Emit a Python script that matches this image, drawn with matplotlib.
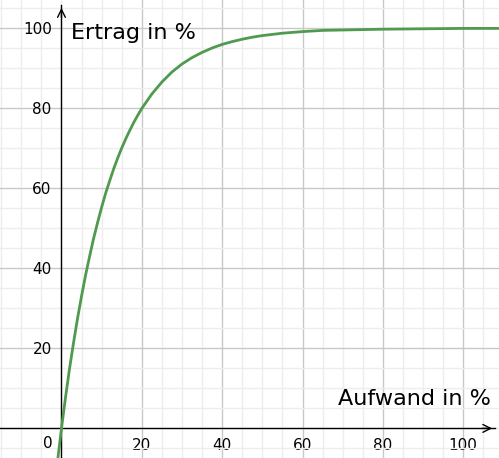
import matplotlib.pyplot as plt
from matplotlib.ticker import MultipleLocator

# Points (Aufwand -> Ertrag, both in %)
aufwand = [-2, -1, 0, 1, 2, 3, 4, 5, 6, 7, 8, 9, 10, 11, 12, 13, 14, 15, 16, 17,
           18, 19, 20, 22.5, 25, 27.5, 30, 32.5, 35, 37.5, 40, 42.5, 45, 47.5, 50,
           55, 60, 65, 70, 80, 90, 100, 110]
ertrag = [-17.5, -8.4, 0, 7.7, 14.9, 21.4, 27.5, 33.1, 38.3, 43.0, 47.5, 51.5, 55.3,
          58.8, 61.9, 64.9, 67.6, 70.1, 72.4, 74.5, 76.5, 78.3, 80.0, 83.6, 86.6,
          89.1, 91.1, 92.7, 94.0, 95.1, 96.0, 96.7, 97.3, 97.8, 98.2, 98.8, 99.2,
          99.5, 99.6, 99.8, 99.9, 100.0, 100.0]

x_ticks = [20, 40, 60, 80, 100]
y_ticks = [20, 40, 60, 80, 100]

fig = plt.figure(figsize=(4.99, 4.58), dpi=100)
ax = fig.add_axes([0, 0, 1, 1])

x_min, x_max = -15.3, 108.9
y_min, y_max = -7.4, 107.1
ax.set_xlim(x_min, x_max)
ax.set_ylim(y_min, y_max)

# grid
ax.xaxis.set_major_locator(MultipleLocator(20))
ax.yaxis.set_major_locator(MultipleLocator(20))
ax.xaxis.set_minor_locator(MultipleLocator(5))
ax.yaxis.set_minor_locator(MultipleLocator(5))
ax.grid(which='major', color='#c8c8c8', lw=1)
ax.grid(which='minor', color='#ededed', lw=1)
ax.set_axisbelow(True)

ax.set_xticks(x_ticks)
ax.set_yticks(y_ticks)
ax.set_xticklabels([str(t) for t in x_ticks])
ax.set_yticklabels([str(t) for t in y_ticks])
ax.tick_params(which='both', length=0)
ax.tick_params(axis='x', pad=7, labelsize=11)
ax.tick_params(axis='y', pad=7, labelsize=11)

for s in ['top', 'right']:
    ax.spines[s].set_visible(False)
ax.spines['left'].set_position(('data', 0))
ax.spines['bottom'].set_position(('data', 0))
ax.spines['left'].set_bounds(y_min, 105.8)
ax.spines['bottom'].set_bounds(x_min, 107.9)
ax.spines['left'].set_linewidth(1)
ax.spines['bottom'].set_linewidth(1)

# arrow heads
ax.annotate('', xy=(107.9, 0), xytext=(104, 0),
            arrowprops=dict(arrowstyle='->', lw=1, color='black', mutation_scale=14))
ax.annotate('', xy=(0, 105.8), xytext=(0, 102),
            arrowprops=dict(arrowstyle='->', lw=1, color='black', mutation_scale=14))

ax.text(-3.3, -3.9, '0', fontsize=11, ha='center', va='center')

ax.plot(aufwand, ertrag, color='#4f9a4f', lw=2, clip_on=True, zorder=3,
        solid_joinstyle='round')

ax.text(2.4, 97.3, 'Ertrag in %', fontsize=16, ha='left', va='baseline')
ax.text(106.9, 5.8, 'Aufwand in %', fontsize=16, ha='right', va='baseline')

fig.savefig('out.png', dpi=100)
